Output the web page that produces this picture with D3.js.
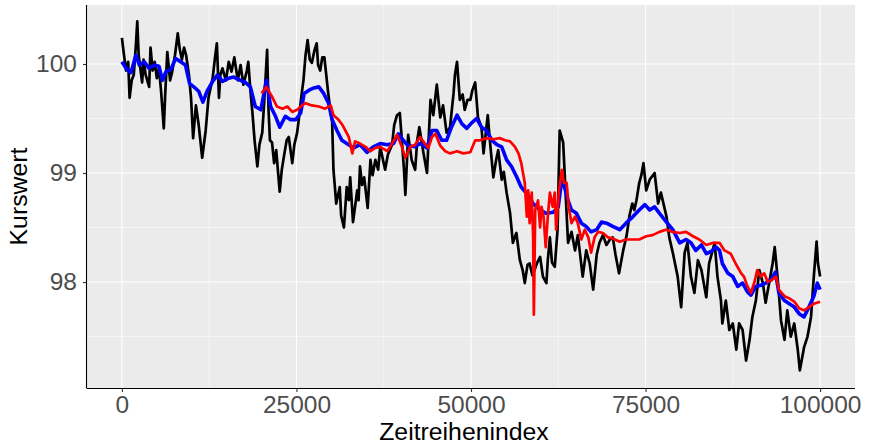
<!DOCTYPE html>
<html><head><meta charset="utf-8">
<script src="https://cdn.jsdelivr.net/npm/d3@7"></script>
<style>
body{margin:0;background:#fff;}
svg{display:block;}
text{font-family:"Liberation Sans",Arial,sans-serif;}
</style></head>
<body><svg id="c" width="871" height="448"></svg>
<script>
const xTicks=[0,25000,50000,75000,100000];
const xMinor=[12500,37500,62500,87500];
const yTicks=[98,99,100];
const yMinor=[97.5,98.5,99.5];

const blackIdx=[0,300,600,900,1100,1400,1700,2000,2200,2400,2900,3100,3400,3900,4100,4400,4700,5000,5300,5600,6000,6200,6500,6900,7200,7600,8000,8300,8600,8900,9200,9600,9900,10200,10600,11000,11500,12000,12400,13000,13300,13600,13900,14100,14400,14900,15300,15700,16100,16600,17000,17400,17900,18100,18400,18700,19000,19400,19700,20100,20400,20800,21000,21200,21500,21800,22100,22600,22900,23200,23600,23900,24400,24700,25100,25400,25700,26000,26300,26600,26900,27200,27600,27900,28100,28400,28700,29000,29500,29900,30100,30300,30700,31200,31400,31800,32200,32500,32700,33100,33700,33900,34100,34400,34700,35200,35600,35900,36300,36700,37000,37400,37700,38100,38700,39000,39400,39800,40100,40400,40600,41000,41500,42000,42300,42600,42900,43200,43700,44200,44600,45100,45600,46000,46500,47000,47500,47700,48000,48400,48800,49100,49500,49900,50200,50600,51000,51500,51800,52400,52700,53200,53600,53900,54400,54700,55100,55600,56000,56500,57000,57400,57700,58100,58400,58800,59100,59500,59900,60300,60800,61000,61300,61600,62000,62400,62700,63200,63600,63900,64400,64900,65300,66000,66500,67000,67500,68000,68400,68900,69400,69900,70300,70700,71200,71800,72300,72700,73100,73400,73700,74100,74400,74700,75100,75600,76300,76800,77200,78000,78400,78900,79600,80100,80600,81000,81500,82000,82500,83000,83700,84100,84900,85300,85800,86000,86500,87000,87500,88000,88400,88900,89400,89900,90300,90800,91300,91800,92200,92700,93200,93500,93900,94400,94900,95300,95800,96300,96800,97100,97700,98200,98700,99100,99500,99700,100000];
const blackVal=[100.24,100.08,99.94,100.02,99.69,99.85,99.90,100.17,100.39,100.08,99.83,100.04,99.90,99.79,100.15,99.94,100.02,99.87,99.96,99.76,99.41,99.72,100.11,99.85,99.93,100.08,100.28,100.13,100.04,100.15,100.08,99.90,99.69,99.32,99.62,99.44,99.14,99.39,99.69,99.87,100.04,100.19,99.69,99.90,99.96,99.85,100.02,99.93,100.06,99.85,99.99,99.81,99.94,100.02,99.76,99.55,99.30,99.06,99.26,99.37,99.67,100.13,99.58,99.30,99.28,99.09,99.21,98.83,99.03,99.15,99.30,99.33,99.09,99.26,99.37,99.53,99.70,99.85,100.08,100.22,100.04,100.01,100.13,100.19,99.99,99.94,100.06,100.06,99.76,99.55,99.49,99.03,98.72,98.87,98.61,98.50,98.87,98.75,98.96,98.55,98.84,98.75,99.06,98.89,98.96,98.68,99.12,98.98,99.12,99.03,99.24,99.12,99.03,99.17,99.26,99.44,99.53,99.55,99.30,99.03,98.80,99.35,99.12,99.03,99.30,99.42,99.30,99.18,99.00,99.67,99.53,99.81,99.51,99.62,99.37,99.42,99.73,99.90,100.02,99.67,99.72,99.58,99.67,99.67,99.76,99.83,99.51,99.42,99.18,99.53,99.30,98.96,99.12,99.21,98.94,99.01,98.82,98.63,98.36,98.45,98.20,98.11,97.99,98.16,98.17,98.06,98.11,98.18,98.23,98.05,97.99,98.20,98.41,98.18,98.14,98.48,99.39,99.28,98.75,98.36,98.46,98.29,98.43,98.05,98.29,98.17,97.93,98.25,98.36,98.43,98.34,98.39,98.41,98.25,98.08,98.29,98.43,98.61,98.72,98.66,98.75,98.91,98.98,99.09,98.84,98.94,99.00,98.72,98.82,98.60,98.41,98.27,98.05,97.77,98.27,98.36,98.05,97.90,98.20,98.11,97.86,98.17,98.36,98.05,97.83,97.62,97.83,97.56,97.62,97.38,97.62,97.56,97.28,97.47,97.68,97.83,98.11,97.99,97.81,97.99,98.17,98.32,98.05,97.65,97.47,97.74,97.50,97.62,97.38,97.19,97.40,97.50,97.68,98.05,98.37,98.17,98.05];

const blueIdx=[0,600,1300,2000,2500,3200,3900,4600,5300,5800,6300,7000,7700,8400,9100,9700,10300,11000,11600,12200,13000,13700,14400,15300,16000,17000,17700,18400,19100,19900,20700,21300,22000,22600,23400,24100,24900,25600,26100,26800,27500,28200,28900,29600,30100,30800,31500,32200,33200,34100,35100,36000,37000,38000,38900,39600,40300,41000,42000,42700,43700,44400,45100,45800,46500,47200,48000,48700,49400,50100,50800,51500,52200,53000,53700,54400,55100,55800,56500,57200,58000,58900,59900,60800,61800,62500,63000,63400,63900,64400,65100,65800,66500,67200,68000,68700,69400,70300,71300,72200,73200,74100,74900,75600,76300,77000,78000,78900,79900,80800,81500,82200,83000,83700,84400,85100,85600,86000,86800,87500,88200,88900,89600,90100,90800,91500,92200,93000,93600,94100,94900,95600,96300,97000,97700,98400,99100,99600,100000];
const blueVal=[100.02,99.96,99.92,100.08,99.99,100.02,99.96,99.99,99.98,99.85,99.93,99.95,100.05,100.02,99.99,99.82,99.79,99.75,99.65,99.75,99.84,99.90,99.84,99.87,99.88,99.85,99.83,99.79,99.61,99.58,99.85,99.61,99.52,99.42,99.52,99.49,99.49,99.55,99.73,99.76,99.78,99.79,99.73,99.64,99.49,99.39,99.30,99.27,99.23,99.26,99.19,99.24,99.27,99.26,99.27,99.36,99.30,99.25,99.24,99.27,99.23,99.39,99.39,99.30,99.30,99.42,99.53,99.45,99.41,99.46,99.50,99.42,99.39,99.30,99.26,99.24,99.12,99.06,98.97,98.87,98.81,98.72,98.66,98.63,98.64,98.69,98.94,98.87,98.75,98.66,98.63,98.54,98.51,98.46,98.48,98.55,98.54,98.51,98.48,98.54,98.60,98.66,98.71,98.66,98.69,98.63,98.55,98.48,98.36,98.39,98.36,98.29,98.34,98.26,98.28,98.32,98.29,98.17,98.08,98.05,97.96,97.99,97.91,97.88,97.96,97.97,97.99,98.02,98.09,97.90,97.83,97.80,97.77,97.71,97.68,97.77,97.87,97.99,97.93];

const redIdx=[20000,20700,21500,22200,23000,23700,24400,25100,25800,26300,27200,28200,29100,29900,30300,31000,31600,32000,32500,33000,33400,34100,34900,35600,36300,37000,38000,38700,39400,40100,40600,41300,42000,42700,43400,43900,44400,44900,45600,46300,47000,48000,48900,49900,50600,51300,52200,53200,54100,54900,55600,56300,56800,57200,57700,58000,58200,58400,58700,58900,59000,59200,59600,59900,60100,60400,60700,61000,61300,61700,62000,62200,62600,63000,63300,63700,64000,64400,64900,65300,65800,66300,66800,67200,67700,68200,68900,69600,70300,71300,72200,73200,74100,75100,76000,77000,77900,78900,79900,80800,81800,82700,83700,84700,85600,86300,87200,87900,88700,89100,89600,90100,90600,91000,91500,92000,92500,93100,93700,94100,94900,95600,96300,97000,97700,98400,99100,100000];
const redVal=[99.73,99.79,99.70,99.61,99.59,99.61,99.56,99.58,99.62,99.64,99.62,99.61,99.59,99.62,99.53,99.49,99.44,99.39,99.33,99.18,99.29,99.27,99.24,99.20,99.23,99.24,99.20,99.27,99.35,99.24,99.14,99.24,99.26,99.33,99.27,99.23,99.33,99.36,99.25,99.20,99.18,99.20,99.18,99.19,99.30,99.30,99.32,99.31,99.32,99.30,99.29,99.24,99.18,99.09,98.91,98.60,98.84,98.54,98.82,98.41,97.70,98.66,98.75,98.50,98.69,98.60,98.32,98.60,98.82,98.69,98.82,98.48,98.84,99.03,98.91,98.91,98.69,98.54,98.60,98.54,98.39,98.48,98.41,98.27,98.41,98.46,98.45,98.41,98.40,98.37,98.39,98.39,98.39,98.42,98.43,98.46,98.48,98.46,98.45,98.46,98.42,98.39,98.34,98.36,98.36,98.29,98.26,98.17,98.08,98.05,97.96,97.90,98.00,98.11,98.05,98.08,98.00,98.02,98.05,97.93,97.87,97.85,97.82,97.76,97.74,97.77,97.80,97.82];

const xTitle="Zeitreihenindex";
const yTitle="Kurswert";

const W=871,H=448;
const m={l:87,r:16,t:5,b:60};
const svg=d3.select("#c");
const x=d3.scaleLinear().domain([-5000,105000]).range([m.l,W-m.r]);
const y=d3.scaleLinear().domain([97.028,100.541]).range([H-m.b,m.t]);

const g=svg.append("g");
g.append("rect").attr("x",m.l).attr("y",m.t).attr("width",W-m.r-m.l).attr("height",H-m.b-m.t).attr("fill","#EBEBEB");
g.selectAll(".ym").data(yMinor).join("line").attr("x1",m.l).attr("x2",W-m.r).attr("y1",d=>y(d)).attr("y2",d=>y(d)).attr("stroke","#fff").attr("stroke-width",0.55);
g.selectAll(".xm").data(xMinor).join("line").attr("y1",m.t).attr("y2",H-m.b).attr("x1",d=>x(d)).attr("x2",d=>x(d)).attr("stroke","#fff").attr("stroke-width",0.55);
g.selectAll(".yM").data(yTicks).join("line").attr("x1",m.l).attr("x2",W-m.r).attr("y1",d=>y(d)).attr("y2",d=>y(d)).attr("stroke","#fff").attr("stroke-width",1.1);
g.selectAll(".xM").data(xTicks).join("line").attr("y1",m.t).attr("y2",H-m.b).attr("x1",d=>x(d)).attr("x2",d=>x(d)).attr("stroke","#fff").attr("stroke-width",1.1);

function mk(ix,vals){return ix.map((d,i)=>[d,vals[i]]);}
const line=d3.line().x(d=>x(d[0])).y(d=>y(d[1]));
svg.append("clipPath").attr("id","cp").append("rect").attr("x",m.l).attr("y",m.t).attr("width",W-m.r-m.l).attr("height",H-m.b-m.t);
const pl=svg.append("g").attr("clip-path","url(#cp)");
pl.append("path").attr("d",line(mk(blackIdx,blackVal))).attr("fill","none").attr("stroke","#000").attr("stroke-width",2.7).attr("stroke-linejoin","round");
pl.append("path").attr("d",line(mk(blueIdx,blueVal))).attr("fill","none").attr("stroke","#0000FF").attr("stroke-width",3.6).attr("stroke-linejoin","round");
pl.append("path").attr("d",line(mk(redIdx,redVal))).attr("fill","none").attr("stroke","#FF0000").attr("stroke-width",2.7).attr("stroke-linejoin","round");

const ax=svg.append("g").attr("transform",`translate(0,${H-m.b})`).call(d3.axisBottom(x).tickValues(xTicks).tickFormat(d3.format("d")).tickSize(4).tickPadding(4));
const ay=svg.append("g").attr("transform",`translate(${m.l},0)`).call(d3.axisLeft(y).tickValues(yTicks).tickFormat(d3.format("d")).tickSize(4).tickPadding(6));
[ax,ay].forEach(a=>{
  a.select(".domain").remove();
  a.selectAll(".tick line").attr("stroke","#333").attr("stroke-width",1.1);
  a.selectAll(".tick text").attr("fill","#4D4D4D").style("font-size","24.5px");
});
svg.append("line").attr("x1",m.l-0.5).attr("x2",m.l-0.5).attr("y1",m.t).attr("y2",H-m.b).attr("stroke","#000").attr("stroke-width",1.1);
svg.append("line").attr("x1",m.l-0.5).attr("x2",W-m.r).attr("y1",H-m.b+0.5).attr("y2",H-m.b+0.5).attr("stroke","#000").attr("stroke-width",1.1);

svg.append("text").attr("x",464).attr("y",440).attr("text-anchor","middle").attr("fill","#000").style("font-size","24.8px").text(xTitle);
svg.append("text").attr("transform",`translate(27,${(m.t+H-m.b)/2}) rotate(-90)`).attr("text-anchor","middle").attr("fill","#000").style("font-size","24.8px").text(yTitle);
</script></body></html>
